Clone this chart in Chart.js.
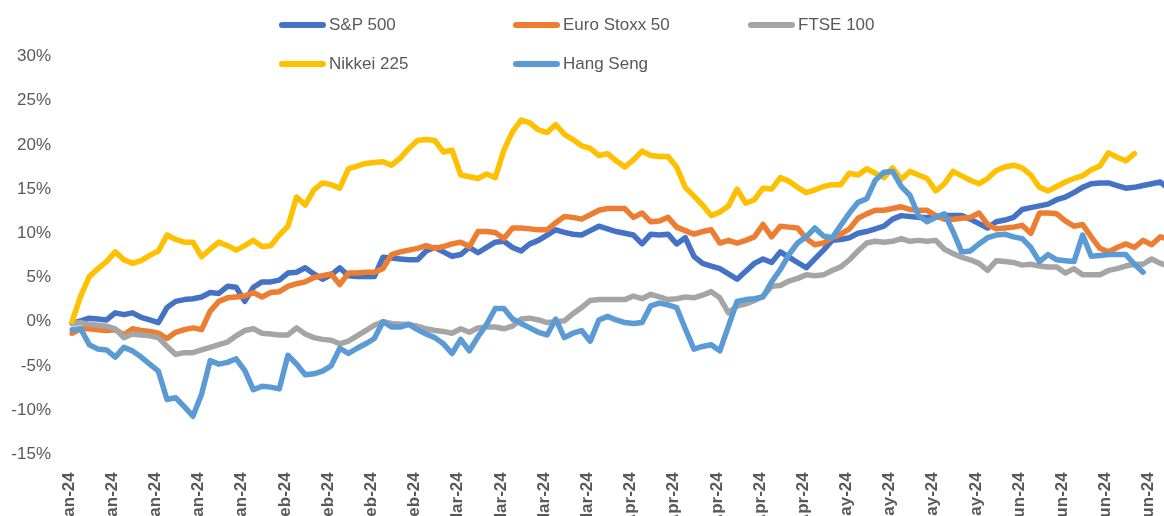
<!DOCTYPE html>
<html>
<head>
<meta charset="utf-8">
<script src="https://cdn.jsdelivr.net/npm/chart.js@4.4.1/dist/chart.umd.min.js"></script>
<style>
html,body{margin:0;padding:0;width:1164px;height:516px;overflow:hidden;background:#ffffff;}
#wrap{position:absolute;left:0;top:0;width:1180px;height:560px;}
.lg-line{position:absolute;height:6px;border-radius:3px;}
.lg-text{position:absolute;font-family:"Liberation Sans",Arial,sans-serif;font-size:17px;color:#595959;line-height:20px;white-space:nowrap;}
</style>
</head>
<body>
<div id="wrap"><canvas id="c"></canvas></div>
<div id="legend"></div>
<script>
// Weekly tick labels (one label every 5 trading days)
const weekLabels = [
  'Jan-24','Jan-24','Jan-24','Jan-24','Jan-24',
  'Feb-24','Feb-24','Feb-24','Feb-24',
  'Mar-24','Mar-24','Mar-24','Mar-24',
  'Apr-24','Apr-24','Apr-24','Apr-24','Apr-24',
  'May-24','May-24','May-24','May-24',
  'Jun-24','Jun-24','Jun-24','Jun-24'
];

const seriesNames = ['S&P 500','Euro Stoxx 50','FTSE 100','Nikkei 225','Hang Seng'];

// Cumulative YTD returns, %
const sp500 = [
  -0.2,0.1,0.4,0.3,0.2,1.0,0.8,1.0,0.5,0.2,
  -0.1,1.6,2.3,2.5,2.6,2.8,3.3,3.2,4.0,3.9,
  2.3,3.9,4.5,4.5,4.7,5.5,5.6,6.1,5.4,4.8,
  5.3,6.1,5.2,5.1,5.1,5.1,7.3,7.2,7.1,7.0,
  7.0,8.0,8.4,7.9,7.4,7.6,8.4,7.8,8.4,9.0,
  9.1,8.4,8.0,8.8,9.2,9.8,10.4,10.1,9.9,9.8,
  10.3,10.8,10.5,10.2,10.0,9.8,8.8,9.9,9.8,9.9,
  8.8,9.5,7.4,6.6,6.3,6.0,5.4,4.8,5.7,6.6,
  7.1,6.7,7.9,7.3,6.7,6.1,7.1,8.1,9.2,9.3,
  9.5,10.0,10.2,10.5,10.8,11.6,12.0,11.9,11.8,11.8,
  11.8,12.0,12.0,12.0,11.6,11.1,10.6,11.3,11.5,11.8,
  12.7,12.9,13.1,13.3,13.8,14.1,14.6,15.2,15.6,15.7,
  15.7,15.4,15.1,15.2,15.4,15.6,15.8,15.0
];
const euroStoxx50 = [
  -1.3,-0.8,-0.8,-0.9,-1.0,-0.9,-1.5,-0.8,-1.0,-1.1,
  -1.3,-1.9,-1.2,-0.9,-0.7,-0.9,1.2,2.3,2.7,2.8,
  2.9,3.3,2.8,3.3,3.4,4.0,4.3,4.5,5.0,5.2,
  5.4,4.2,5.5,5.5,5.6,5.6,6.0,7.6,7.9,8.1,
  8.3,8.6,8.3,8.5,8.8,9.0,8.5,10.2,10.2,10.1,
  9.4,10.6,10.6,10.5,10.4,10.4,11.2,11.9,11.8,11.6,
  12.1,12.6,12.8,12.8,12.8,11.8,12.3,11.3,11.4,11.8,
  10.7,10.3,9.9,10.2,10.4,8.9,9.2,8.9,9.2,9.6,
  11.0,9.6,10.8,10.7,10.6,9.4,8.7,8.9,9.5,9.9,
  10.5,11.7,12.2,12.6,12.6,12.8,13.0,12.7,12.6,12.6,
  12.0,11.6,11.6,11.7,11.8,12.3,11.0,10.5,10.6,10.7,
  10.9,10.0,12.3,12.3,12.2,11.4,10.8,11.0,9.6,8.3,
  7.9,8.4,8.8,8.4,9.2,8.7,9.6,9.3
];
const ftse100 = [
  -0.2,-0.1,-0.3,-0.4,-0.5,-0.8,-1.8,-1.4,-1.5,-1.6,
  -1.8,-2.8,-3.7,-3.5,-3.5,-3.2,-2.9,-2.6,-2.3,-1.6,
  -1.0,-0.8,-1.3,-1.4,-1.5,-1.5,-0.7,-1.4,-1.8,-2.0,
  -2.1,-2.5,-2.2,-1.6,-1.0,-0.4,0.0,-0.2,-0.3,-0.3,
  -0.5,-0.8,-1.0,-1.1,-1.3,-0.8,-1.2,-0.7,-0.6,-0.6,
  -0.8,-0.5,0.3,0.4,0.2,-0.1,0.0,0.1,0.9,1.6,
  2.4,2.5,2.5,2.5,2.5,2.9,2.6,3.1,2.8,2.5,
  2.6,2.8,2.7,3.0,3.4,2.7,1.0,1.8,2.0,2.4,
  2.9,4.0,4.1,4.6,4.9,5.3,5.2,5.3,5.8,6.2,
  7.0,8.0,8.9,9.1,9.0,9.1,9.4,9.1,9.2,9.1,
  9.2,8.2,7.7,7.3,7.0,6.6,5.8,6.9,6.8,6.7,
  6.4,6.5,6.3,6.2,6.2,5.5,6.0,5.3,5.3,5.3,
  5.8,6.0,6.3,6.5,6.5,7.1,6.6,6.3
];
const nikkei225 = [
  0.0,2.9,5.1,6.0,6.8,7.9,7.0,6.6,6.9,7.5,
  8.0,9.8,9.3,9.0,9.0,7.35,8.2,9.0,8.6,8.1,
  8.6,9.2,8.5,8.6,9.8,10.8,14.1,13.2,14.9,15.7,
  15.5,15.1,17.3,17.6,17.9,18.0,18.1,17.7,18.5,19.6,
  20.5,20.6,20.5,19.2,19.4,16.6,16.4,16.2,16.7,16.3,
  19.4,21.5,22.8,22.5,21.7,21.4,22.3,21.2,20.6,19.9,
  19.6,18.8,19.0,18.2,17.5,18.3,19.3,18.8,18.7,18.7,
  17.5,15.2,14.2,13.2,12.0,12.4,13.1,15.0,13.4,13.8,
  15.1,15.0,16.3,15.9,15.2,14.6,14.9,15.3,15.5,15.5,
  16.8,16.6,17.3,16.8,16.3,17.4,16.1,17.0,16.6,16.2,
  14.8,15.6,17.0,16.5,16.0,15.6,16.2,17.1,17.5,17.7,
  17.4,16.6,15.2,14.8,15.3,15.8,16.2,16.5,17.2,17.6,
  19.1,18.6,18.2,19.0
];
const hangSeng = [
  -0.9,-0.8,-2.6,-3.1,-3.2,-4.0,-2.9,-3.3,-4.0,-4.8,
  -5.6,-8.8,-8.6,-9.6,-10.7,-8.2,-4.4,-4.8,-4.6,-4.2,
  -5.5,-7.7,-7.3,-7.4,-7.6,-3.8,-4.8,-6.0,-5.9,-5.6,
  -5.0,-3.0,-3.6,-3.0,-2.5,-1.9,0.0,-0.6,-0.6,-0.3,
  -0.9,-1.4,-1.8,-2.5,-3.6,-2.0,-3.3,-1.7,-0.3,1.5,
  1.5,0.3,-0.2,-0.7,-1.2,-1.5,0.3,-1.8,-1.3,-1.0,
  -2.2,0.2,0.6,0.2,-0.1,-0.2,-0.1,1.8,2.1,1.9,
  1.6,-0.8,-3.1,-2.8,-2.6,-3.3,-0.5,2.3,2.5,2.6,
  2.8,4.5,5.9,7.6,8.9,9.6,10.6,9.7,9.5,10.9,
  12.3,13.5,13.9,16.0,16.9,17.0,15.3,14.3,12.0,11.3,
  11.8,12.2,10.2,7.9,8.0,8.8,9.5,9.8,9.9,9.6,
  9.4,8.4,6.8,7.6,7.0,6.9,6.8,9.8,7.4,7.5,
  7.6,7.6,7.6,6.5,5.6
];

const yTicks = [-15,-10,-5,0,5,10,15,20,25,30];

const categories = sp500.map((_, i) => weekLabels[Math.floor(i / 5)]);
const colors = ['#4472C4','#ED7D31','#A5A5A5','#FFC000','#5B9BD5'];
const values = [sp500, euroStoxx50, ftse100, nikkei225, hangSeng];

const FONT = '"Liberation Sans", Arial, sans-serif';
const GREY = '#595959';

const datasets = values.map((v, k) => ({
  label: seriesNames[k],
  data: v,
  borderColor: colors[k],
  backgroundColor: colors[k],
  borderWidth: 5.5,
  pointRadius: 0,
  pointHoverRadius: 0,
  tension: 0,
  fill: false,
  borderJoinStyle: 'round',
  borderCapStyle: 'round',
  order: 5 - k
}));

new Chart(document.getElementById('c'), {
  type: 'line',
  data: { labels: categories, datasets },
  options: {
    responsive: true,
    maintainAspectRatio: false,
    devicePixelRatio: 1,
    animation: false,
    layout: { padding: { top: 56.5, left: 0, right: 11, bottom: 0 } },
    plugins: { legend: { display: false }, tooltip: { enabled: false } },
    scales: {
      x: {
        type: 'category',
        offset: false,
        border: { display: false },
        grid: { display: false, drawTicks: false },
        afterFit: s => {
          s.height = 560 - 454.3;
          s.paddingLeft = 0;
          s.paddingRight = 0;
        },
        ticks: {
          autoSkip: false,
          maxRotation: 90,
          minRotation: 90,
          padding: 18,
          labelOffset: -3,
          color: GREY,
          font: { family: FONT, size: 17, weight: 'bold' },
          callback: function (value, index) {
            return index % 5 === 0 ? this.getLabelForValue(value) : '';
          }
        }
      },
      y: {
        min: yTicks[0],
        max: yTicks[yTicks.length - 1],
        border: { display: false },
        grid: { display: false, drawTicks: false },
        afterFit: s => {
          s.width = 72;
          s.paddingTop = 0;
          s.paddingBottom = 0;
        },
        afterBuildTicks: s => { s.ticks = yTicks.map(v => ({ value: v })); },
        ticks: {
          padding: 21,
          color: GREY,
          font: { family: FONT, size: 17 },
          callback: v => v + '%'
        }
      }
    }
  }
});

// Legend (HTML), two rows
const legendSlots = [[279, 25], [513, 25], [748, 25], [279, 64], [513, 64]];
const legend = document.getElementById('legend');
seriesNames.forEach((name, k) => {
  const [x, cy] = legendSlots[k];
  const ln = document.createElement('div');
  ln.className = 'lg-line';
  ln.style.left = x + 'px';
  ln.style.top = (cy - 3) + 'px';
  ln.style.width = '47px';
  ln.style.background = colors[k];
  legend.appendChild(ln);
  const tx = document.createElement('div');
  tx.className = 'lg-text';
  tx.style.left = (x + 50) + 'px';
  tx.style.top = (cy - 10) + 'px';
  tx.textContent = name;
  legend.appendChild(tx);
});
</script>
</body>
</html>
